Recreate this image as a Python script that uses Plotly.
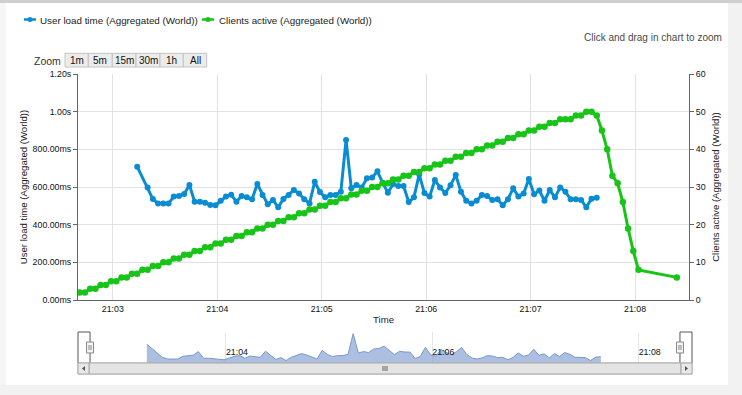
import plotly.graph_objects as go
import pandas as pd

DAY = "2013-05-14 "

# ---------------- data ----------------
clients_start = "21:02:41"          # first sample, then every 3 s
clients_active = [
    2, 2, 3, 3, 4, 4, 5, 5, 6, 6, 7, 7, 8, 8, 9, 9, 10, 10, 11, 11,
    12, 12, 13, 13, 14, 14, 15, 15, 16, 16, 17, 17, 18, 18, 19, 19, 20, 20, 21, 21,
    22, 22, 23, 23, 24, 24, 25, 25, 26, 26, 27, 27, 28, 28, 29, 29, 30, 30, 31, 31,
    32, 32, 33, 33, 34, 34, 35, 35, 36, 36, 37, 37, 38, 38, 39, 39, 40, 40, 41, 41,
    42, 42, 43, 43, 44, 44, 45, 45, 46, 46, 47, 47, 48, 48,
    48, 49, 49, 50, 50, 49, 45, 40, 33, 31, 26, 19, 13, 8,
]
clients_tail_time = "21:08:24"
clients_tail_value = 6

load_first_time = "21:03:14"
load_start = "21:03:20"             # then every 3 s
user_load_ms = [
    708,
    598, 536, 513, 512, 512, 549, 552, 563, 611, 522,
    522, 517, 504, 503, 527, 549, 559, 522, 552, 545,
    535, 616, 558, 508, 531, 492, 536, 558, 584, 566,
    535, 513, 628, 573, 545, 558, 558, 575, 850, 593,
    611, 598, 646, 651, 683, 623, 570, 616, 605, 605,
    520, 545, 667, 568, 549, 637, 598, 568, 609, 664,
    575, 527, 513, 527, 558, 552, 531, 535, 503, 535,
    593, 549, 566, 643, 561, 581, 527, 584, 545, 598,
    575, 535, 535, 531, 492, 538, 543,
]

main_x_range = ["21:02:40", "21:08:31"]
nav_x_range = ["21:02:34", "21:08:31"]
nav_y_range = [460, 870]
left_tickvals = [0, 200, 400, 600, 800, 1000, 1200]
left_ticktext = ["0.00ms", "200.00ms", "400.00ms", "600.00ms", "800.00ms", "1.00s", "1.20s"]
right_tickvals = [0, 10, 20, 30, 40, 50, 60]
zoom_buttons = ["1m", "5m", "15m", "30m", "1h", "All"]

series_names = ["User load time (Aggregated (World))", "Clients active (Aggregated (World))"]
BLUE = "#0a8cd2"
GREEN = "#17c417"
FONT = "Liberation Sans, Arial, sans-serif"

# ---------------- build x values ----------------
clients_times = list(pd.date_range(DAY + clients_start, periods=len(clients_active), freq="3s"))
clients_times.append(pd.Timestamp(DAY + clients_tail_time))
clients_vals = clients_active + [clients_tail_value]

load_times = [pd.Timestamp(DAY + load_first_time)] + list(
    pd.date_range(DAY + load_start, periods=len(user_load_ms) - 1, freq="3s"))

data_min = min(clients_times[0], load_times[0])
data_max = max(clients_times[-1], load_times[-1])

# ---------------- geometry helpers ----------------
W, H = 742, 395
ML, MR, MT, MB = 78, 50, 74, 21
PW, PH = W - ML - MR, H - MT - MB


def fx(px):
    return (px - ML) / PW


def fy(py):
    return (H - MB - py) / PH


fig = go.Figure()

fig.add_trace(go.Scatter(
    x=load_times, y=user_load_ms, name=series_names[0], mode="lines+markers",
    line=dict(color=BLUE, width=3), marker=dict(color=BLUE, size=6),
    xaxis="x", yaxis="y", showlegend=False))
fig.add_trace(go.Scatter(
    x=clients_times, y=clients_vals, name=series_names[1], mode="lines+markers",
    line=dict(color=GREEN, width=3), marker=dict(color=GREEN, size=6.5),
    xaxis="x", yaxis="y2", showlegend=False))
# navigator
fig.add_trace(go.Scatter(
    x=load_times, y=user_load_ms, mode="lines", fill="tozeroy",
    line=dict(color="#7a9acb", width=1), fillcolor="rgba(122,152,206,0.62)",
    xaxis="x2", yaxis="y3", showlegend=False, hoverinfo="skip"))

GRID = "#e2e2e2"
AX = "#666666"
TICKFONT = dict(family=FONT, size=8.8, color="#111")
TITLEFONT = dict(family=FONT, size=9.6, color="#222")

fig.update_layout(
    width=W, height=H, autosize=False,
    margin=dict(l=ML, r=MR, t=MT, b=MB),
    paper_bgcolor="white", plot_bgcolor="white",
    font=dict(family=FONT, color="#333"),
    xaxis=dict(domain=[0, fx(689)], anchor="y", type="date",
               range=[DAY + main_x_range[0], DAY + main_x_range[1]],
               tickformat="%H:%M", dtick=60000, tick0=DAY + "21:00:00",
               showgrid=True, gridcolor=GRID, gridwidth=1,
               showline=True, linecolor=AX, linewidth=1, ticks="",
               tickfont=TICKFONT, zeroline=False,
               title=dict(text="Time", font=TITLEFONT, standoff=3)),
    yaxis=dict(domain=[fy(300), 1], anchor="x", range=[0, 1200],
               tickvals=left_tickvals, ticktext=left_ticktext,
               showgrid=True, gridcolor=GRID, zeroline=False,
               showline=True, linecolor=AX, linewidth=1,
               ticks="outside", ticklen=4, tickcolor=AX, tickfont=TICKFONT,
               title=dict(text=series_names[0], font=TITLEFONT, standoff=3)),
    yaxis2=dict(overlaying="y", anchor="x", side="right", range=[0, 60],
                tickvals=right_tickvals, showgrid=False, zeroline=False,
                showline=True, linecolor=AX, linewidth=1,
                ticks="outside", ticklen=4, tickcolor=AX, tickfont=TICKFONT,
                title=dict(text=series_names[1], font=TITLEFONT, standoff=7)),
    xaxis2=dict(domain=[0, 1], anchor="y3", type="date",
                range=[DAY + nav_x_range[0], DAY + nav_x_range[1]],
                tickformat="%H:%M", dtick=120000, tick0=DAY + "21:00:00",
                showgrid=True, gridcolor="#e6e6e6", showline=False, ticks="",
                ticklabelposition="inside right", zeroline=False,
                tickfont=dict(family=FONT, size=8.8, color="#111")),
    yaxis3=dict(domain=[fy(363), fy(332)], anchor="x2", range=nav_y_range,
                showgrid=False, showticklabels=False, zeroline=False, showline=False, ticks=""),
    hovermode=False,
)

shapes = []
ann = []


def rect(x0, y0, x1, y1, fill, line=None, lw=1, layer="above"):
    shapes.append(dict(type="rect", xref="paper", yref="paper",
                       x0=fx(x0), x1=fx(x1), y0=fy(y1), y1=fy(y0),
                       fillcolor=fill, layer=layer,
                       line=dict(color=line or fill, width=lw if line else 0)))


def pline(x0, y0, x1, y1, color, w=1):
    shapes.append(dict(type="line", xref="paper", yref="paper",
                       x0=fx(x0), x1=fx(x1), y0=fy(y0), y1=fy(y1),
                       line=dict(color=color, width=w)))


def text(s, x, y, xanchor="left", size=10, color="#333"):
    ann.append(dict(text=s, xref="paper", yref="paper", x=fx(x), y=fy(y),
                    xanchor=xanchor, yanchor="middle", showarrow=False,
                    font=dict(family=FONT, size=size, color=color)))


# page frame
rect(0, 0, W, 3, "#cfcfcf", layer="below")
rect(0, 3, 6, H, "#f6f6f6", layer="below")
rect(728, 3, W, H, "#f2f2f2", layer="below")
rect(0, 385, W, H, "#f2f2f2", layer="below")

# legend
for (sx, tx, col, name) in [(24, 37.5, BLUE, series_names[0]), (202, 216.5, GREEN, series_names[1])]:
    pline(sx, 19.5, sx + 12, 19.5, col, 2.5)
    shapes.append(dict(type="circle", xref="paper", yref="paper",
                       x0=fx(sx + 3.5), x1=fx(sx + 8.5), y0=fy(22), y1=fy(17),
                       fillcolor=col, line=dict(width=0)))
    text(name, tx, 20, size=9.8, color="#222")

text("Click and drag in chart to zoom", 724, 38, xanchor="right", size=10, color="#4a4a4a")

# range selector
text("Zoom", 63, 60.5, xanchor="right", size=10.5, color="#333")
edges = [65, 88.3, 112.3, 136, 160, 183.3, 206.7]
for i, lab in enumerate(zoom_buttons):
    rect(edges[i], 53.3, edges[i + 1], 67, "#ececec", "#c4c4c4")
    ann.append(dict(text=lab, xref="paper", yref="paper",
                    x=fx((edges[i] + edges[i + 1]) / 2), y=fy(60.5),
                    xanchor="center", yanchor="middle", showarrow=False,
                    font=dict(family=FONT, size=10, color="#111")))

# navigator outline
OUT = "#555"
pline(78, 332, 78, 363, OUT)
pline(692, 332, 692, 363, OUT)
for t in (data_min, data_max):
    shapes.append(dict(type="line", xref="x2", yref="paper", x0=t, x1=t,
                       y0=fy(363), y1=fy(332), line=dict(color=OUT, width=1)))
shapes.append(dict(type="line", xref="x2", yref="paper", x0=DAY + nav_x_range[0], x1=data_min,
                   y0=fy(332), y1=fy(332), line=dict(color=OUT, width=1)))
shapes.append(dict(type="line", xref="x2", yref="paper", x0=data_max, x1=DAY + nav_x_range[1],
                   y0=fy(332), y1=fy(332), line=dict(color=OUT, width=1)))
# handles
for t in (data_min, data_max):
    shapes.append(dict(type="rect", xref="x2", yref="paper", xsizemode="pixel", xanchor=t,
                       x0=-3.5, x1=3.5, y0=fy(353), y1=fy(342),
                       fillcolor="#f4f4f4", line=dict(color="#888", width=1)))
    for dx in (-1, 1):
        shapes.append(dict(type="line", xref="x2", yref="paper", xsizemode="pixel", xanchor=t,
                           x0=dx, x1=dx, y0=fy(350), y1=fy(345),
                           line=dict(color="#888", width=1)))

# scrollbar
rect(78, 363, 692, 374, "#eeeeee", "#bdbdbd")
rect(89, 363, 681, 374, "#e4e4e4", "#a8a8a8")
rect(78, 363, 89, 374, "#e8e8e8", "#a8a8a8")
rect(681, 363, 692, 374, "#e8e8e8", "#a8a8a8")
shapes.append(dict(type="path", xref="paper", yref="paper",
                   path=f"M {fx(85)} {fy(366)} L {fx(85)} {fy(371)} L {fx(82)} {fy(368.5)} Z",
                   fillcolor="#555", line=dict(width=0)))
shapes.append(dict(type="path", xref="paper", yref="paper",
                   path=f"M {fx(685)} {fy(366)} L {fx(685)} {fy(371)} L {fx(688)} {fy(368.5)} Z",
                   fillcolor="#555", line=dict(width=0)))
for dx in (-2, 0, 2):
    pline(385 + dx, 366, 385 + dx, 371, "#666")

fig.update_layout(shapes=shapes, annotations=ann)
fig.write_html("out.html", config={"displayModeBar": False},
               post_script="document.body.style.margin='0';document.body.style.overflow='hidden';")
